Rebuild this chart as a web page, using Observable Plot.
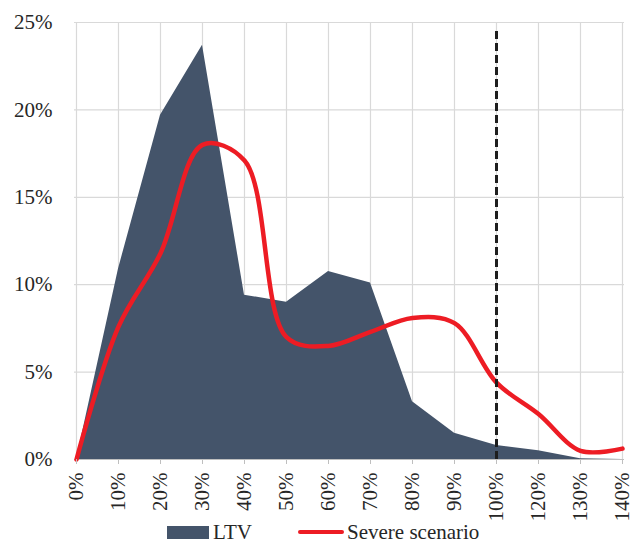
<!DOCTYPE html>
<html>
<head>
<meta charset="utf-8">
<script src="https://cdn.jsdelivr.net/npm/d3@7"></script>
<script src="https://cdn.jsdelivr.net/npm/@observablehq/plot@0.6"></script>
<style>
  html, body { margin: 0; padding: 0; background: #fff; }
  #wrap { width: 641px; height: 545px; position: relative; font-family: "Liberation Serif", serif; color: #262626; }
  #legend { position: absolute; left: 0; top: 519px; width: 641px; height: 26px; font-size: 21px; }
  .item { position: absolute; top: 0; display: flex; align-items: center; height: 26px; }
  .sw { width: 42px; height: 13px; background: #44546a; margin-right: 4px; }
  .ln { width: 46px; height: 4px; background: #ed1c24; border-radius: 2px; margin-right: 3px; }
</style>
</head>
<body>
<div id="wrap">
  <div id="chart"></div>
  <div id="legend"></div>
</div>
<script>
// LTV buckets (category labels; note there is no 110% bucket)
const ltvBuckets = ["0%", "10%", "20%", "30%", "40%", "50%", "60%", "70%", "80%", "90%", "100%", "120%", "130%", "140%"];
// Share of loans, LTV distribution (%)
const ltvShare = [0, 10.9, 19.7, 23.7, 9.4, 9.0, 10.75, 10.1, 3.3, 1.5, 0.8, 0.5, 0.05, 0];
// Share of loans, severe scenario (%)
const severeShare = [0, 7.6, 11.8, 18.0, 17.1, 7.0, 6.5, 7.3, 8.1, 7.8, 4.4, 2.6, 0.5, 0.62];
// Y ticks (%)
const yTicks = [0, 5, 10, 15, 20, 25];
// Reference line (100% LTV)
const threshold = ["100%"];
const thresholdTop = 24.7;
// Legend labels
const seriesNames = ["LTV", "Severe scenario"];

const rows = ltvBuckets.map((x, i) => ({x, ltv: ltvShare[i], severe: severeShare[i]}));
const pct = d => d + "%";

const chart = Plot.plot({
  width: 641,
  height: 512,
  marginLeft: 74,
  marginRight: 17,
  marginTop: 22,
  marginBottom: 53,
  style: {fontFamily: "'Liberation Serif', serif", fontSize: "21px", color: "#262626", background: "#fff", overflow: "visible"},
  x: {type: "point", domain: ltvBuckets, padding: 0},
  y: {domain: [0, 25], ticks: yTicks, tickFormat: pct},
  marks: [
    Plot.gridX(ltvBuckets, {stroke: "#d9d9d9", strokeOpacity: 1, strokeWidth: 1.2}),
    Plot.gridY(yTicks, {stroke: "#d9d9d9", strokeOpacity: 1, strokeWidth: 1.2}),
    Plot.areaY(rows, {x: "x", y: "ltv", fill: "#44546a"}),
    Plot.ruleY([0], {stroke: "#bfbfbf", strokeWidth: 1.2}),
    Plot.line(rows, {x: "x", y: "severe", stroke: "#ed1c24", strokeWidth: 4.5, curve: "catmull-rom"}),
    Plot.ruleX(threshold, {y1: 0, y2: thresholdTop, stroke: "#1e1e1e", strokeWidth: 3, strokeDasharray: "8,4"}),
    Plot.axisX({ticks: ltvBuckets, tickRotate: -90, tickSize: 5, tickPadding: 8, stroke: "#bfbfbf", label: null}),
    Plot.axisY({ticks: yTicks, tickFormat: pct, tickSize: 0, tickPadding: 22, label: null})
  ]
});
document.getElementById("chart").appendChild(chart);

const legend = document.getElementById("legend");
legend.innerHTML =
  `<div class="item" style="left:167px"><div class="sw"></div><span>${seriesNames[0]}</span></div>` +
  `<div class="item" style="left:298px"><div class="ln"></div><span>${seriesNames[1]}</span></div>`;
</script>
</body>
</html>
